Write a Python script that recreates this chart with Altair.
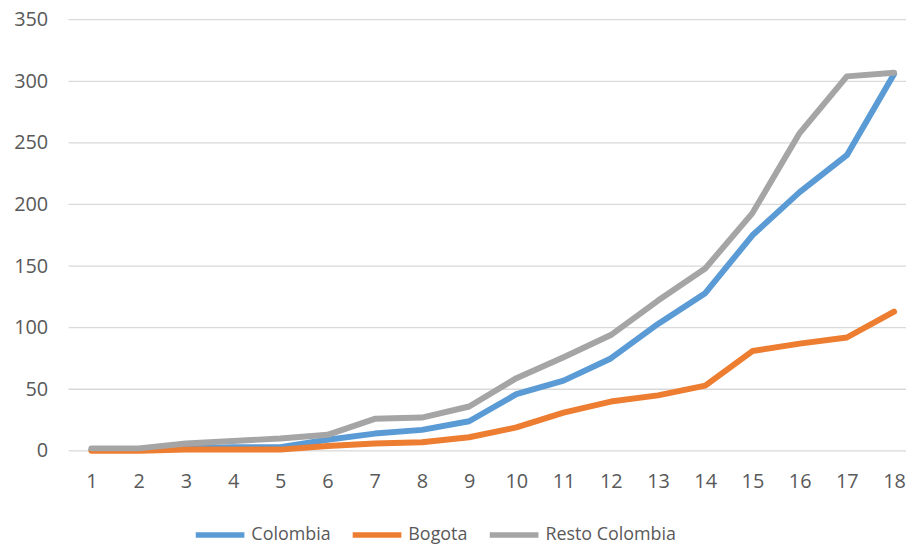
import altair as alt
import pandas as pd

days = list(range(1, 19))
colombia = [1, 1, 2, 3, 3, 9, 14, 17, 24, 46, 57, 75, 103, 128, 175, 210, 240, 306]
bogota = [0, 0, 1, 1, 1, 4, 6, 7, 11, 19, 31, 40, 45, 53, 81, 87, 92, 113]
resto = [2, 2, 6, 8, 10, 13, 26, 27, 36, 59, 76, 94, 122, 148, 193, 258, 304, 307]
ticks_y = [0, 50, 100, 150, 200, 250, 300, 350]

series = ["Colombia", "Bogota", "Resto Colombia"]
colors = ["#5B9BD5", "#ED7D31", "#A5A5A5"]

rows = []
for name, vals in zip(series, [colombia, bogota, resto]):
    for d, v in zip(days, vals):
        rows.append({"day": d, "value": v, "serie": name})
df = pd.DataFrame(rows)
grid_df = pd.DataFrame({"g": ticks_y})

FONT = "Open Sans"
TXT = "#595959"
W = 843

yscale = alt.Scale(domain=[0, 350], nice=False)
yaxis = alt.Axis(title=None, values=ticks_y, domain=False, ticks=False, grid=False,
                 labelPadding=21, labelFontSize=20, labelColor=TXT, labelFont=FONT)

grid = alt.Chart(grid_df).mark_rule(color="#D9D9D9", strokeWidth=1.3).encode(
    y=alt.Y("g:Q", scale=yscale, axis=yaxis),
    x=alt.value(0), x2=alt.value(W),
)

lines = alt.Chart(df).mark_line(
    strokeWidth=6, strokeCap="round", strokeJoin="round"
).encode(
    x=alt.X("day:O", sort=days,
            scale=alt.Scale(type="point", padding=0, range=[23, 831]),
            axis=alt.Axis(title=None, labelAngle=0, domain=False, ticks=False,
                          grid=False, labelPadding=21, labelFontSize=20,
                          labelColor=TXT, labelFont=FONT)),
    y=alt.Y("value:Q", scale=yscale, axis=yaxis),
    color=alt.Color("serie:N",
                    scale=alt.Scale(domain=series, range=colors),
                    legend=alt.Legend(title=None, orient="none", direction="horizontal",
                                      legendX=125, legendY=491,
                                      symbolType="stroke", symbolSize=2401,
                                      symbolStrokeWidth=5.5, labelOffset=4,
                                      columnPadding=11, labelFontSize=18,
                                      labelColor=TXT, labelFont=FONT)),
    order=alt.Order("day:Q"),
)

chart = alt.layer(grid, lines).properties(
    width=W, height=434,
    padding={"left": 61, "top": 10, "right": 0, "bottom": 92},
    autosize=alt.AutoSizeParams(type="none"),
).configure_view(stroke=None)

chart.save("out.html", embed_options={"renderer": "svg", "actions": False})
